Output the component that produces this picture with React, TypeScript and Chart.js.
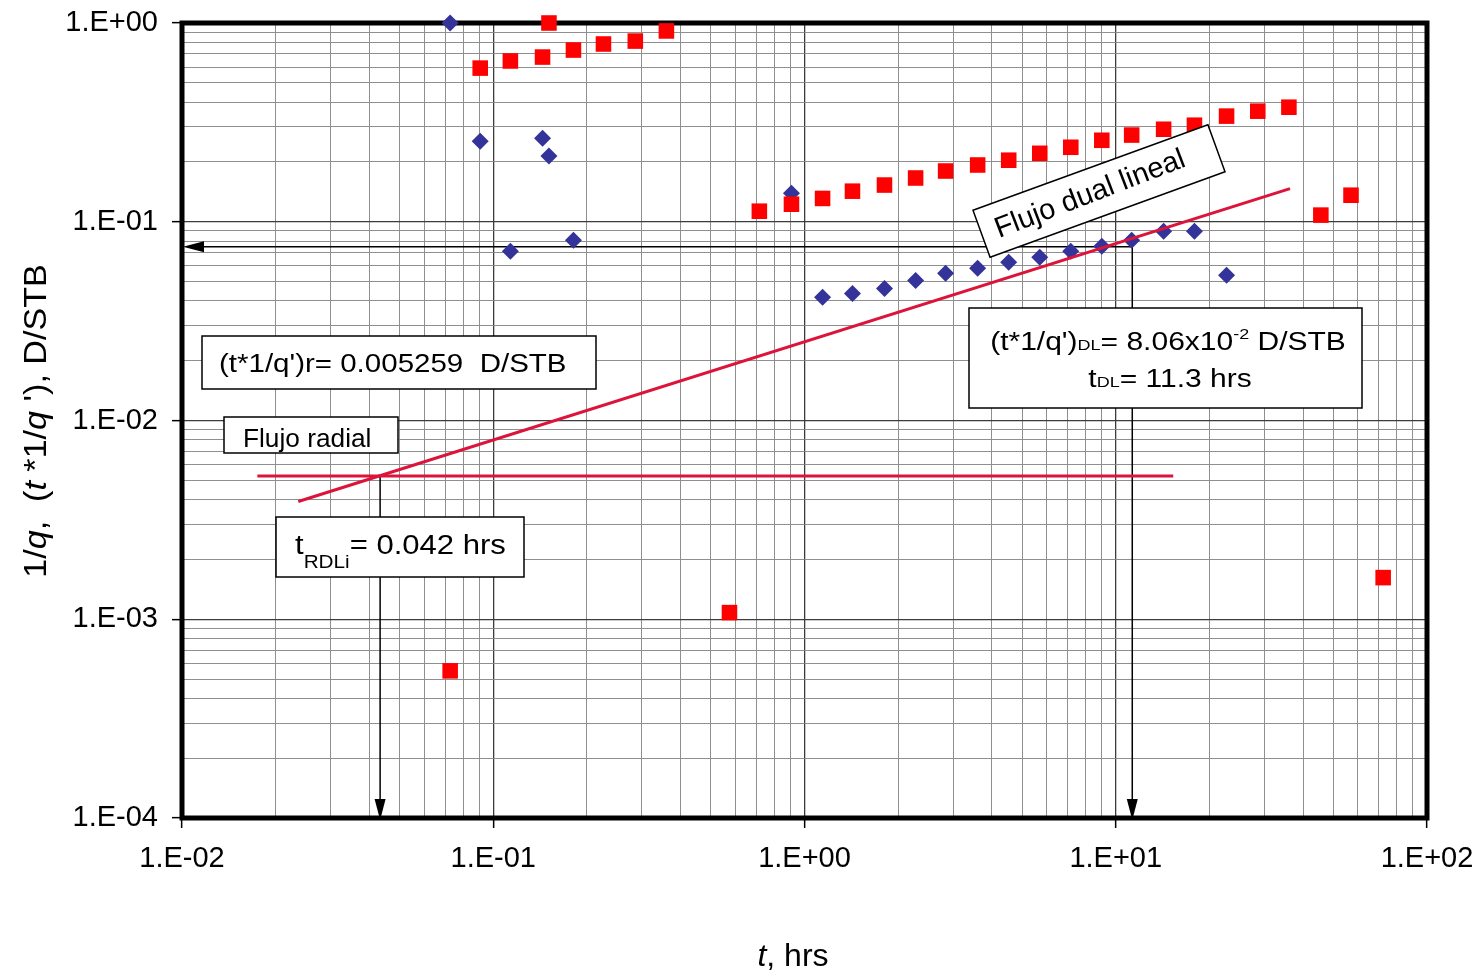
import { useEffect, useRef } from 'react';
import { Chart, registerables } from 'chart.js';
Chart.register(...registerables);

// ---- data ----
const BLUE_T = [0.0727, 0.0908, 0.144, 0.151, 0.1135, 0.181, 0.908, 1.143, 1.426, 1.807, 2.275, 2.84, 3.6, 4.53, 5.7, 7.17, 9.02, 11.25, 14.25, 17.9, 22.7];
const BLUE_V = [1.0, 0.254, 0.263, 0.214, 0.071, 0.0807, 0.139, 0.0417, 0.0436, 0.0462, 0.0507, 0.055, 0.0583, 0.0625, 0.0662, 0.071, 0.0753, 0.0807, 0.0896, 0.0896, 0.0538];
const RED_T = [0.0727, 0.0908, 0.1135, 0.144, 0.151, 0.181, 0.226, 0.286, 0.36, 0.574, 0.716, 0.908, 1.143, 1.426, 1.807, 2.275, 2.84, 3.6, 4.53, 5.7, 7.17, 9.02, 11.25, 14.25, 17.9, 22.7, 28.6, 36.0, 45.6, 57.0, 72.3];
const RED_V = [0.00055, 0.593, 0.644, 0.674, 1.0, 0.731, 0.784, 0.811, 0.912, 0.00108, 0.113, 0.1225, 0.131, 0.1425, 0.153, 0.166, 0.18, 0.193, 0.204, 0.221, 0.237, 0.257, 0.273, 0.292, 0.306, 0.34, 0.36, 0.377, 0.108, 0.136, 0.00162];

const RADIAL_LINE_T = [0.01746, 15.3];
const RADIAL_LINE_V = [0.005259, 0.005259];
const DUAL_LINE_T = [0.02364, 36.3];
const DUAL_LINE_V = [0.00391, 0.1468];

const DL_T = 11.3;
const DL_V = 0.0749;
const RDLI_T = 0.0433;
const RADIAL_V = 0.005259;

const X_TICK_LABELS = ['1.E-02', '1.E-01', '1.E+00', '1.E+01', '1.E+02'];
const Y_TICK_LABELS = ['1.E-04', '1.E-03', '1.E-02', '1.E-01', '1.E+00'];
const X_MIN = 0.01, X_MAX = 100, Y_MIN = 1e-4, Y_MAX = 1;

const FONT = "'Liberation Sans', Arial, sans-serif";

function logGrid(min: number, max: number) {
  const out: number[] = [];
  const e0 = Math.round(Math.log10(min));
  const e1 = Math.round(Math.log10(max));
  for (let e = e0; e < e1; e++) {
    for (let m = 1; m < 10; m++) out.push(Number((m * Math.pow(10, e)).toPrecision(6)));
  }
  out.push(max);
  return out;
}
function isDecade(v: number) {
  const e = Math.log10(v);
  return Math.abs(e - Math.round(e)) < 1e-6;
}

type Run = { text: string; size: number; italic?: boolean; dy?: number };

function drawRuns(ctx: CanvasRenderingContext2D, runs: Run[], x: number, y: number, align: 'left' | 'center', hScale = 1, angle = 0) {
  ctx.save();
  ctx.translate(x, y);
  if (angle) ctx.rotate(angle);
  ctx.scale(hScale, 1);
  ctx.fillStyle = '#000';
  ctx.textBaseline = 'alphabetic';
  ctx.textAlign = 'left';
  const widths = runs.map((r) => {
    ctx.font = `${r.italic ? 'italic ' : ''}${r.size}px ${FONT}`;
    return ctx.measureText(r.text).width;
  });
  const total = widths.reduce((a, b) => a + b, 0);
  let cx = align === 'center' ? -total / 2 : 0;
  runs.forEach((r, i) => {
    ctx.font = `${r.italic ? 'italic ' : ''}${r.size}px ${FONT}`;
    ctx.fillText(r.text, cx, r.dy || 0);
    cx += widths[i];
  });
  ctx.restore();
}

function box(ctx: CanvasRenderingContext2D, x: number, y: number, w: number, h: number) {
  ctx.save();
  ctx.fillStyle = '#fff';
  ctx.strokeStyle = '#000';
  ctx.lineWidth = 1.5;
  ctx.fillRect(x, y, w, h);
  ctx.strokeRect(x, y, w, h);
  ctx.restore();
}

function arrowHead(ctx: CanvasRenderingContext2D, tipX: number, tipY: number, dir: 'left' | 'down') {
  ctx.beginPath();
  if (dir === 'left') {
    ctx.moveTo(tipX, tipY);
    ctx.lineTo(tipX + 21, tipY - 5.5);
    ctx.lineTo(tipX + 21, tipY + 5.5);
  } else {
    ctx.moveTo(tipX, tipY);
    ctx.lineTo(tipX - 5.5, tipY - 21);
    ctx.lineTo(tipX + 5.5, tipY - 21);
  }
  ctx.closePath();
  ctx.fill();
}

const overlay = {
  id: 'overlay',
  beforeDatasetsDraw(chart: any) {
    const { ctx, chartArea: a, scales } = chart;
    const x = scales.x, y = scales.y;
    ctx.save();
    // frame
    ctx.strokeStyle = '#000';
    ctx.lineWidth = 5;
    ctx.strokeRect(a.left, a.top, a.right - a.left, a.bottom - a.top);
    // arrows
    ctx.lineWidth = 1.5;
    ctx.fillStyle = '#000';
    const xa = x.getPixelForValue(DL_T);
    const ya = y.getPixelForValue(DL_V);
    ctx.beginPath();
    ctx.moveTo(xa, ya);
    ctx.lineTo(a.left + 15, ya);
    ctx.moveTo(xa, ya);
    ctx.lineTo(xa, a.bottom - 15);
    const xr = x.getPixelForValue(RDLI_T);
    const yr = y.getPixelForValue(RADIAL_V);
    ctx.moveTo(xr, yr);
    ctx.lineTo(xr, a.bottom - 15);
    ctx.stroke();
    arrowHead(ctx, a.left + 1, ya, 'left');
    arrowHead(ctx, xa, a.bottom + 2, 'down');
    arrowHead(ctx, xr, a.bottom + 2, 'down');
    ctx.restore();
  },
  afterDatasetsDraw(chart: any) {
    const { ctx } = chart;
    // (t*1/q')r box
    box(ctx, 202, 336, 394, 53);
    drawRuns(ctx, [{ text: "(t*1/q')r= 0.005259  D/STB", size: 25 }], 219, 372, 'left', 1.18);
    // Flujo radial
    box(ctx, 224, 417, 174, 36);
    drawRuns(ctx, [{ text: 'Flujo radial', size: 25 }], 243, 447, 'left', 1.05);
    // tRDLi
    box(ctx, 276, 517, 248, 60);
    drawRuns(ctx, [
      { text: 't', size: 27 },
      { text: 'RDLi', size: 18, dy: 14 },
      { text: '= 0.042 hrs', size: 27 },
    ], 295, 554, 'left', 1.15);
    // DL box
    box(ctx, 969, 308, 393, 100);
    drawRuns(ctx, [
      { text: "(t*1/q')", size: 25 },
      { text: 'DL', size: 15 },
      { text: '= 8.06x10', size: 25 },
      { text: '-2', size: 15, dy: -11 },
      { text: ' D/STB', size: 25 },
    ], 1168, 350, 'center', 1.2);
    drawRuns(ctx, [
      { text: 't', size: 25 },
      { text: 'DL', size: 15 },
      { text: '= 11.3 hrs', size: 25 },
    ], 1170, 387, 'center', 1.2);
    // rotated "Flujo dual lineal" box
    ctx.save();
    ctx.translate(1099, 191);
    ctx.rotate((-20 * Math.PI) / 180);
    ctx.fillStyle = '#fff';
    ctx.strokeStyle = '#000';
    ctx.lineWidth = 1.5;
    ctx.fillRect(-125, -25, 250, 50);
    ctx.strokeRect(-125, -25, 250, 50);
    ctx.restore();
    drawRuns(ctx, [{ text: 'Flujo dual lineal', size: 29 }], 1093, 202, 'center', 1.0, (-21 * Math.PI) / 180);
  },
  afterDraw(chart: any) {
    const { ctx } = chart;
    // y title
    drawRuns(ctx, [
      { text: '1/', size: 31 },
      { text: 'q', size: 31, italic: true },
      { text: ',  (', size: 31 },
      { text: 't', size: 31, italic: true },
      { text: ' *1/', size: 31 },
      { text: 'q', size: 31, italic: true },
      { text: " '), D/STB", size: 31 },
    ], 46, 421, 'center', 1.1, -Math.PI / 2);
    // x title
    drawRuns(ctx, [
      { text: 't', size: 32, italic: true },
      { text: ', hrs', size: 32 },
    ], 793, 966, 'center', 1.0);
  },
};

export default function App() {
  const ref = useRef<HTMLCanvasElement>(null);
  useEffect(() => {
    document.body.style.margin = '0';
    const gridColor = (c: any) => (c.tick && isDecade(c.tick.value) ? '#3c3c3c' : '#8f8f8f');
    const gridWidth = (c: any) => (c.tick && isDecade(c.tick.value) ? 1.3 : 1);
    const tickColor = (c: any) => (c.tick && isDecade(c.tick.value) ? '#000' : 'rgba(0,0,0,0)');
    const chart = new Chart(ref.current as HTMLCanvasElement, {
      type: 'scatter',
      data: {
        datasets: [
          {
            type: 'line',
            label: 'radial',
            data: RADIAL_LINE_T.map((t, i) => ({ x: t, y: RADIAL_LINE_V[i] })),
            borderColor: '#DC143C',
            borderWidth: 3,
            pointRadius: 0,
            fill: false,
            order: 0,
            clip: false as any,
          },
          {
            type: 'line',
            label: 'dual',
            data: DUAL_LINE_T.map((t, i) => ({ x: t, y: DUAL_LINE_V[i] })),
            borderColor: '#DC143C',
            borderWidth: 3,
            pointRadius: 0,
            fill: false,
            order: 0,
            clip: false as any,
          },
          {
            label: "t*1/q'",
            data: RED_T.map((t, i) => ({ x: t, y: RED_V[i] })),
            pointStyle: 'rect',
            pointRadius: 11,
            backgroundColor: '#FF0000',
            borderColor: '#FF0000',
            borderWidth: 0,
            order: 1,
            clip: false as any,
          },
          {
            label: '1/q',
            data: BLUE_T.map((t, i) => ({ x: t, y: BLUE_V[i] })),
            pointStyle: 'rectRot',
            pointRadius: 8.5,
            backgroundColor: '#333399',
            borderColor: '#333399',
            borderWidth: 0,
            order: 2,
            clip: false as any,
          },
        ],
      },
      options: {
        responsive: false,
        animation: false,
        events: [],
        layout: { padding: { top: 23, right: 55, left: 0, bottom: 0 } },
        plugins: { legend: { display: false }, tooltip: { enabled: false } },
        scales: {
          x: {
            type: 'logarithmic',
            min: X_MIN,
            max: X_MAX,
            afterBuildTicks: (s: any) => {
              s.ticks = logGrid(X_MIN, X_MAX).map((v) => ({ value: v, major: isDecade(v) }));
            },
            afterFit: (s: any) => {
              s.height = 156;
              s.paddingLeft = 0;
              s.paddingRight = 0;
            },
            border: { display: false },
            grid: { color: gridColor, lineWidth: gridWidth, tickColor, tickLength: 10, tickWidth: 1.5 },
            ticks: {
              autoSkip: false,
              maxRotation: 0,
              minRotation: 0,
              padding: 14,
              color: '#000',
              font: { family: FONT, size: 29 },
              callback: (v: any) => {
                const n = Number(v);
                if (!isDecade(n)) return '';
                return X_TICK_LABELS[Math.round(Math.log10(n) - Math.log10(X_MIN))];
              },
            },
          },
          y: {
            type: 'logarithmic',
            min: Y_MIN,
            max: Y_MAX,
            afterBuildTicks: (s: any) => {
              s.ticks = logGrid(Y_MIN, Y_MAX).map((v) => ({ value: v, major: isDecade(v) }));
            },
            afterFit: (s: any) => {
              s.width = 182;
              s.paddingTop = 0;
              s.paddingBottom = 0;
            },
            border: { display: false },
            grid: { color: gridColor, lineWidth: gridWidth, tickColor, tickLength: 10, tickWidth: 1.5 },
            ticks: {
              autoSkip: false,
              padding: 14,
              color: '#000',
              font: { family: FONT, size: 29 },
              callback: (v: any) => {
                const n = Number(v);
                if (!isDecade(n)) return '';
                return Y_TICK_LABELS[Math.round(Math.log10(n) - Math.log10(Y_MIN))];
              },
            },
          },
        },
      } as any,
      plugins: [overlay],
    });
    return () => chart.destroy();
  }, []);
  return <canvas ref={ref} width={1482} height={974} style={{ display: 'block' }} />;
}
